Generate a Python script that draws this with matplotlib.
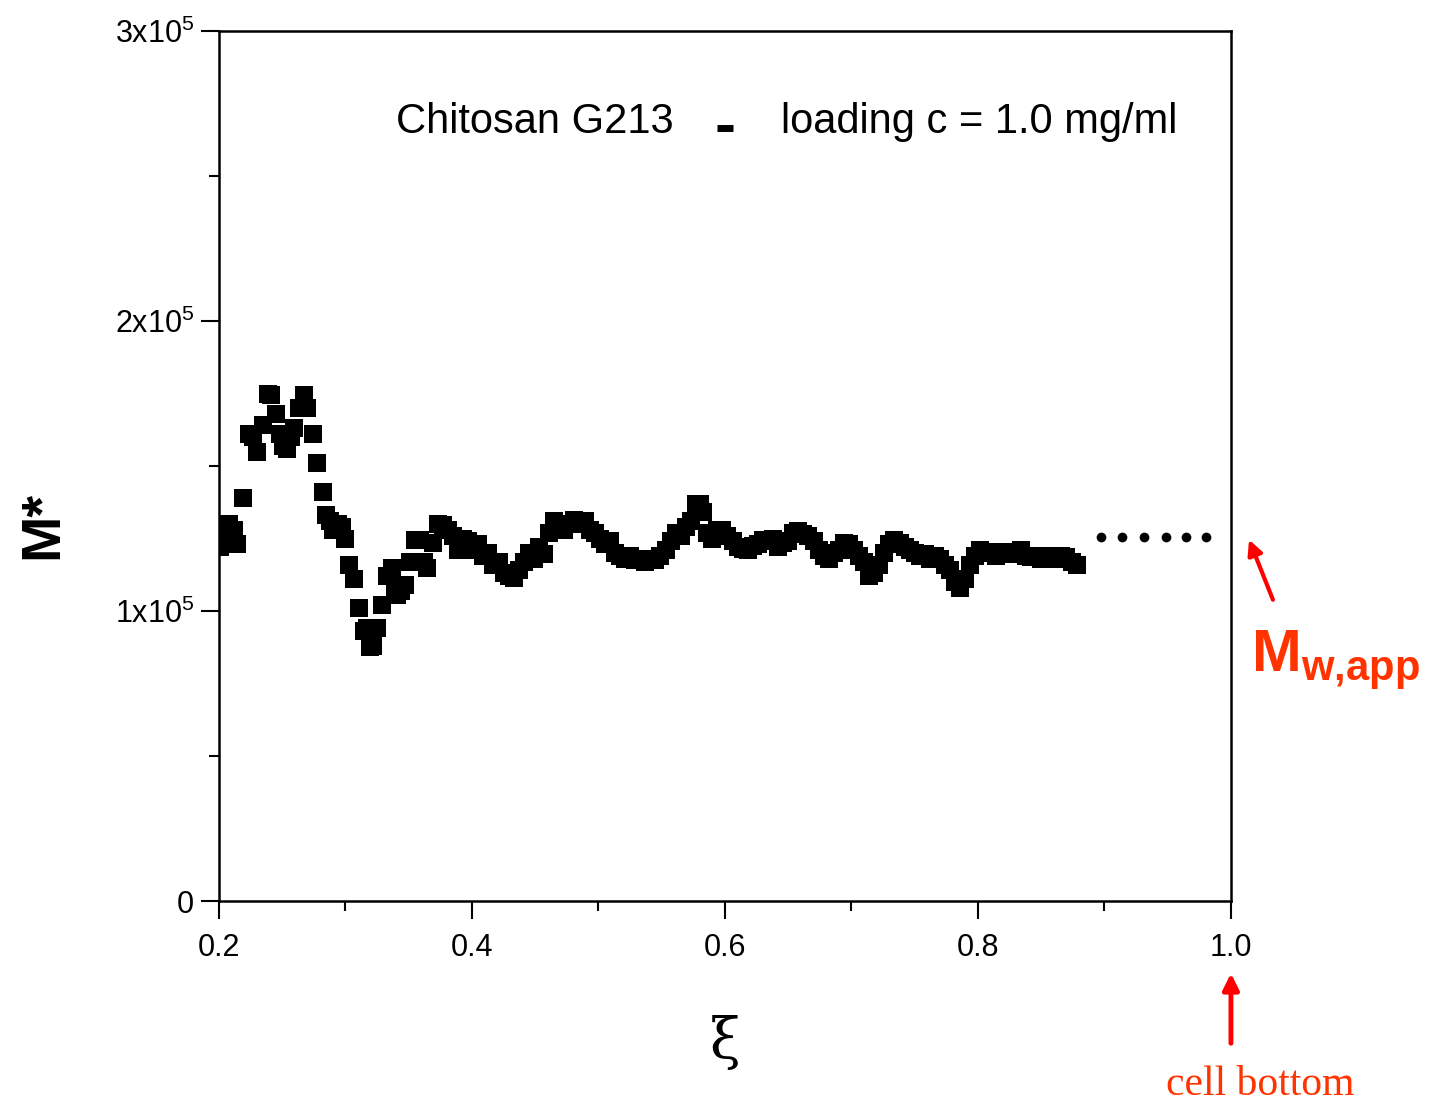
import matplotlib.pyplot as plt
from matplotlib.ticker import FixedLocator, FuncFormatter

plt.rcParams['font.family'] = ['Liberation Sans', 'DejaVu Sans']
plt.rcParams['mathtext.fontset'] = 'custom'
plt.rcParams['mathtext.rm'] = 'Liberation Sans'
plt.rcParams['mathtext.bf'] = 'Liberation Sans:bold'

# apparent molar mass M* along the reduced radial coordinate xi
xi = [0.201, 0.203, 0.205, 0.208, 0.210, 0.212, 0.214, 0.219, 0.2237, 0.227,
      0.230, 0.235, 0.2387, 0.241, 0.245, 0.248, 0.251, 0.254, 0.257, 0.259,
      0.263, 0.267, 0.2696, 0.274, 0.2775, 0.282, 0.285, 0.288, 0.290, 0.294,
      0.297, 0.2996, 0.3028, 0.3067, 0.3107, 0.315, 0.317, 0.3194, 0.322, 0.325,
      0.329, 0.3328, 0.3368, 0.339, 0.3407, 0.344, 0.347, 0.351, 0.355, 0.359,
      0.362, 0.3644, 0.369, 0.373, 0.377, 0.381, 0.385,
      0.389, 0.393, 0.397, 0.401, 0.405, 0.409, 0.413, 0.417, 0.421, 0.425,
      0.429, 0.433, 0.437, 0.441, 0.445, 0.449, 0.453, 0.457, 0.461, 0.465,
      0.469, 0.473, 0.477, 0.481, 0.485, 0.489, 0.493, 0.497, 0.501, 0.505,
      0.509, 0.513, 0.517, 0.521, 0.525, 0.529, 0.533, 0.537, 0.541, 0.545,
      0.549, 0.553, 0.557, 0.561, 0.565, 0.569, 0.573, 0.577, 0.580, 0.583,
      0.586, 0.590, 0.594, 0.598, 0.602, 0.606, 0.610, 0.614, 0.618, 0.622,
      0.626, 0.630, 0.634, 0.638, 0.642, 0.646, 0.650, 0.654, 0.658, 0.662,
      0.666, 0.670, 0.674, 0.678, 0.682, 0.686, 0.690, 0.694, 0.698, 0.702,
      0.706, 0.710, 0.714, 0.718, 0.722, 0.726, 0.730, 0.734, 0.738, 0.742,
      0.746, 0.750, 0.754, 0.758, 0.762, 0.766, 0.770, 0.774, 0.778, 0.782,
      0.786, 0.790, 0.794, 0.798, 0.802, 0.806, 0.810, 0.814, 0.818, 0.822,
      0.826, 0.830, 0.834, 0.838, 0.842, 0.846, 0.850, 0.854, 0.858, 0.862,
      0.866, 0.870, 0.874, 0.878]
m_star = [1.22, 1.28, 1.25, 1.30, 1.24, 1.28, 1.23, 1.39, 1.61, 1.60,
          1.55, 1.64, 1.75, 1.745, 1.68, 1.61, 1.57, 1.56, 1.60, 1.63,
          1.70, 1.745, 1.70, 1.61, 1.51, 1.41, 1.33, 1.31, 1.28, 1.30,
          1.29, 1.25, 1.16, 1.11, 1.01, 0.93, 0.94, 0.876, 0.88, 0.94,
          1.02, 1.12, 1.15, 1.08, 1.055, 1.07, 1.09, 1.17, 1.245, 1.245,
          1.17, 1.15, 1.235, 1.30, 1.295, 1.28, 1.26,
          1.21, 1.25, 1.24, 1.21, 1.23, 1.19, 1.20, 1.16, 1.17, 1.13,
          1.12, 1.115, 1.14, 1.17, 1.20, 1.18, 1.22, 1.195, 1.27, 1.31,
          1.30, 1.28, 1.30, 1.315, 1.30, 1.31, 1.28, 1.27, 1.25, 1.23,
          1.24, 1.20, 1.19, 1.18, 1.19, 1.175, 1.18, 1.17, 1.18, 1.175,
          1.19, 1.21, 1.24, 1.27, 1.26, 1.29, 1.31, 1.37, 1.37, 1.34,
          1.27, 1.25, 1.28, 1.28, 1.26, 1.24, 1.22, 1.215, 1.21, 1.225,
          1.23, 1.245, 1.24, 1.25, 1.22, 1.235, 1.24, 1.27, 1.275, 1.265,
          1.26, 1.24, 1.21, 1.19, 1.18, 1.20, 1.21, 1.235, 1.23, 1.21,
          1.19, 1.17, 1.12, 1.13, 1.16, 1.20, 1.23, 1.245, 1.235, 1.22,
          1.21, 1.20, 1.19, 1.195, 1.18, 1.19, 1.18, 1.16, 1.14, 1.10,
          1.08, 1.11, 1.16, 1.19, 1.21, 1.20, 1.205, 1.19, 1.20, 1.205,
          1.195, 1.20, 1.21, 1.19, 1.185, 1.19, 1.18, 1.19, 1.185, 1.18,
          1.19, 1.185, 1.17, 1.16]
m_star = [v * 1e5 for v in m_star]

# extrapolation towards the cell bottom
xi_extra = [0.8973, 0.9136, 0.931, 0.9486, 0.9644, 0.980]
m_extra = [1.255e5] * 6

fig = plt.figure(figsize=(14.34, 11.05), dpi=100)
ax = fig.add_axes([0.1527, 0.1846, 0.7057, 0.7873])

ax.plot(xi, m_star, linestyle='none', marker='s', markersize=12.5,
        color='black', markeredgewidth=0)
ax.plot(xi_extra, m_extra, linestyle='none', marker='o', markersize=7,
        color='black', markeredgewidth=0)

ax.set_xlim(0.2, 1.0)
ax.set_ylim(0, 3e5)

ax.xaxis.set_major_locator(FixedLocator([0.2, 0.4, 0.6, 0.8, 1.0]))
ax.xaxis.set_minor_locator(FixedLocator([0.3, 0.5, 0.7, 0.9]))
ax.yaxis.set_major_locator(FixedLocator([0, 1e5, 2e5, 3e5]))
ax.yaxis.set_minor_locator(FixedLocator([0.5e5, 1.5e5, 2.5e5]))


def ylab(v, pos):
    if v == 0:
        return '0'
    return r'$\mathregular{%dx10^{5}}$' % round(v / 1e5)


ax.yaxis.set_major_formatter(FuncFormatter(ylab))
ax.xaxis.set_major_formatter(FuncFormatter(lambda v, p: '%.1f' % v))

ax.tick_params(which='both', direction='out', width=1.5, labelsize=22,
               top=False, right=False)
ax.tick_params(which='major', length=13, pad=10)
ax.tick_params(which='minor', length=7)
ax.tick_params(axis='y', labelsize=22, pad=5)
for s in ax.spines.values():
    s.set_linewidth(1.8)

ax.set_ylabel('M*', fontsize=40, fontweight='bold')
ax.yaxis.set_label_coords(-0.148, 0.432)
ax.set_xlabel('ξ', fontsize=40, family='DejaVu Serif')
ax.xaxis.set_label_coords(0.5, -0.131)

ax.text(0.175, 0.895, 'Chitosan G213', transform=ax.transAxes,
        fontsize=30, va='center', ha='left')
ax.plot([0.492, 0.508], [0.888, 0.888], transform=ax.transAxes,
        color='black', linewidth=5, solid_capstyle='butt')
ax.text(0.555, 0.895, 'loading c = 1.0 mg/ml', transform=ax.transAxes,
        fontsize=30, va='center', ha='left')

# red annotations outside the axes
red = '#ff0000'
orange = '#ff3300'
ax.annotate('', xy=(1.0135, 1.255e5), xytext=(1.034, 1.03e5),
            xycoords='data', annotation_clip=False,
            arrowprops=dict(arrowstyle='-|>', color=red, lw=3,
                            mutation_scale=22))
ax.text(1.016, 0.83e5, r'$\mathbf{M_{w{,}app}}$', fontsize=43, color=orange,
        va='center', ha='left', clip_on=False)
ax.annotate('', xy=(1.0, -0.24e5), xytext=(1.0, -0.5e5),
            xycoords='data', annotation_clip=False,
            arrowprops=dict(arrowstyle='-|>', color=red, lw=3.5,
                            mutation_scale=24))
ax.text(1.0235, -0.635e5, 'cell bottom', fontsize=30, color=orange,
        family='Liberation Serif', va='center', ha='center', clip_on=False)

fig.savefig('out.png', dpi=100)
